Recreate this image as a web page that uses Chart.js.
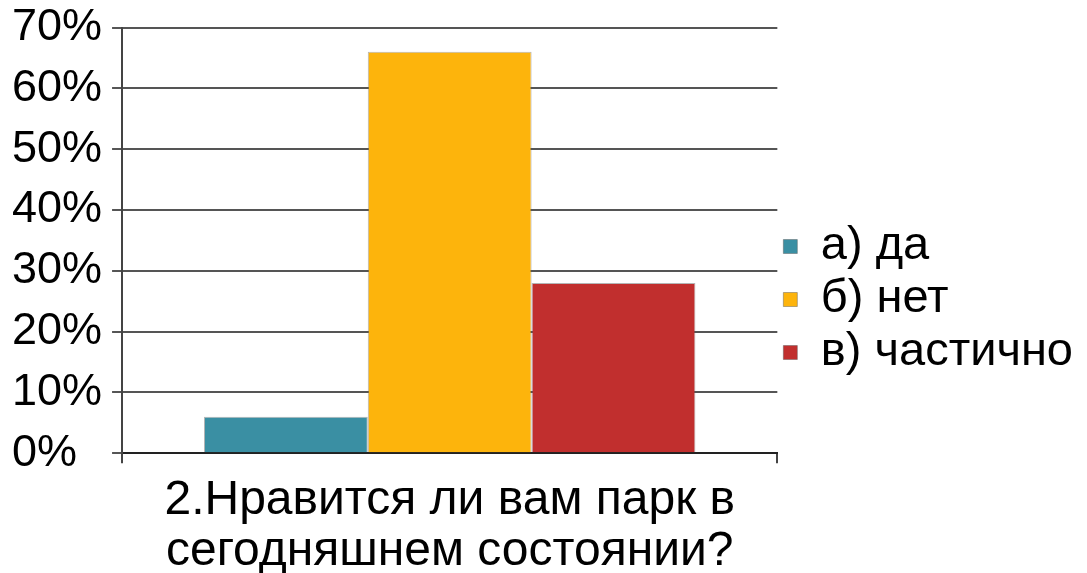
<!DOCTYPE html>
<html>
<head>
<meta charset="utf-8">
<script src="https://cdn.jsdelivr.net/npm/chart.js@4"></script>
<style>
  body { margin: 0; background: #fff; }
  #chart { display: block; }
</style>
</head>
<body>
<canvas id="chart" width="1087" height="573"></canvas>
<script>
// ========== data ==========
const question = ["2.Нравится ли вам парк в", "сегодняшнем состоянии?"];
const answers = ["а) да", "б) нет", "в) частично"];
const percents = [6, 66, 28];
const colors = ["#3a8fa3", "#fdb40c", "#c12f2e"];

// one dataset per answer so they sit side by side with their own legend entry
const datasets = [];
for (let i = 0; i < answers.length; i++) {
  datasets.push({
    label: answers[i],
    data: [percents[i]],
    backgroundColor: colors[i],
    borderColor: "rgba(90,90,90,0.45)",
    borderWidth: 1,
    categoryPercentage: 0.75,
    barPercentage: 1,
  });
}

const config = {
  type: "bar",
  data: {
    labels: [""],
    datasets: datasets,
  },
  options: {
    responsive: false,
    animation: false,
    layout: {
      padding: { left: 12, right: 4, top: -10, bottom: -4 },
    },
    plugins: {
      legend: {
        position: "right",
        maxWidth: 330,
        title: {
          // empty title only pushes the items a bit lower, like the original
          display: true,
          text: " ",
          font: { size: 10 },
          padding: { top: 10, bottom: 10 },
        },
        labels: {
          boxWidth: 14,
          boxHeight: 14,
          padding: 6,
          color: "#000",
          font: { family: "Liberation Sans", size: 47 },
        },
      },
      tooltip: { enabled: false },
    },
    scales: {
      x: {
        grid: {
          display: true,
          drawOnChartArea: false,
          tickLength: 10,
          color: "#444",
          lineWidth: 2,
        },
        border: { color: "#222", width: 2 },
        ticks: { display: false },
        title: {
          display: true,
          text: question,
          color: "#000",
          font: { family: "Liberation Sans", size: 48, lineHeight: 1.06 },
          padding: { top: 12, bottom: 0 },
        },
      },
      y: {
        min: 0,
        max: 70,
        ticks: {
          stepSize: 10,
          crossAlign: "far",
          padding: 5,
          color: "#000",
          font: { family: "Liberation Sans", size: 45, lineHeight: 1.0 },
          callback: (v) => v + "%",
        },
        grid: {
          color: "#555",
          lineWidth: 2,
          tickLength: 10,
        },
        border: { color: "#444", width: 2 },
      },
    },
  },
};

let chart = new Chart(document.getElementById("chart"), config);
</script>
</body>
</html>
